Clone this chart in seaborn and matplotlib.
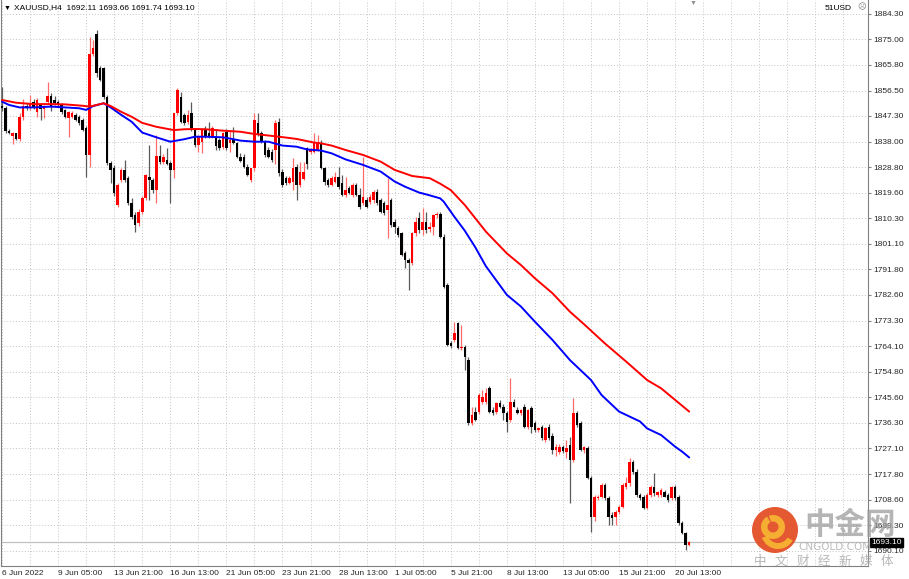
import numpy as np
import matplotlib.pyplot as plt
import matplotlib.patches as mpatches
import matplotlib.transforms as mtransforms
import seaborn as sns

# MT4-like white chart
sns.set_style("white")
plt.rcParams['font.family'] = ['Liberation Sans', 'DejaVu Sans']

# H4 candles, 6 Jun 2022 13:00 .. 21 Jul 2022 05:00 (one entry per bar)
opens = [
    1851.0, 1850.1, 1842.0, 1840.0, 1841.0, 1838.8, 1847.0, 1851.0, 1850.1, 1852.5,
    1848.8, 1851.3, 1849.7, 1852.5, 1854.5, 1853.1, 1852.5, 1851.3, 1849.5, 1846.4,
    1847.0, 1847.6, 1847.0, 1845.8, 1842.8, 1833.2, 1869.9, 1877.0, 1864.8, 1864.5,
    1854.3, 1830.2, 1828.4, 1815.1, 1824.1, 1827.8, 1824.7, 1815.7, 1811.5, 1808.5,
    1812.7, 1817.5, 1825.4, 1824.1, 1820.5, 1833.0, 1830.8, 1831.4, 1830.2, 1827.8,
    1848.3, 1854.0, 1847.7, 1845.3, 1848.3, 1842.2, 1836.8, 1838.0, 1842.2, 1841.0,
    1840.2, 1839.2, 1838.6, 1836.0, 1841.6, 1837.4, 1838.6, 1837.4, 1832.6, 1832.6,
    1829.0, 1824.1, 1828.4, 1844.6, 1841.0, 1838.0, 1835.0, 1834.4, 1835.0, 1845.0,
    1827.0, 1824.8, 1823.0, 1823.6, 1829.0, 1822.4, 1824.5, 1835.6, 1834.4, 1834.4,
    1835.0, 1837.4, 1828.4, 1824.2, 1822.4, 1823.6, 1825.4, 1823.0, 1818.7, 1821.1,
    1818.7, 1822.4, 1818.7, 1815.7, 1816.9, 1816.3, 1816.9, 1819.9, 1816.9, 1815.7,
    1813.3, 1816.9, 1809.1, 1806.7, 1804.9, 1797.6, 1795.2, 1794.0, 1804.9, 1810.5,
    1806.1, 1809.1, 1806.3, 1807.3, 1811.5, 1811.9, 1803.7, 1786.2, 1765.1, 1766.3,
    1772.3, 1763.3, 1763.9, 1759.0, 1736.2, 1740.4, 1740.4, 1744.0, 1744.0, 1748.8,
    1741.0, 1740.4, 1743.4, 1742.2, 1739.8, 1737.4, 1744.0, 1741.0, 1739.8, 1742.2,
    1734.9, 1741.6, 1736.2, 1733.7, 1734.9, 1730.1, 1734.9, 1731.5, 1726.5, 1725.9,
    1727.7, 1725.9, 1728.3, 1722.9, 1739.8, 1736.1, 1726.5, 1727.1, 1716.2, 1702.4,
    1709.0, 1709.6, 1713.8, 1709.0, 1703.0, 1702.4, 1704.2, 1706.0, 1713.2, 1714.4,
    1722.3, 1718.7, 1710.2, 1709.6, 1705.4, 1710.2, 1713.2, 1710.2, 1710.2, 1711.4,
    1710.2, 1709.0, 1713.2, 1709.6, 1700.0, 1696.4, 1692.11,
]
highs = [
    1857.9, 1851.0, 1842.5, 1841.6, 1841.3, 1848.5, 1853.3, 1852.1, 1854.9, 1853.3,
    1853.8, 1852.0, 1851.3, 1859.7, 1855.5, 1854.5, 1853.1, 1851.9, 1850.0, 1849.2,
    1849.0, 1848.5, 1847.6, 1846.4, 1843.5, 1876.0, 1874.8, 1878.4, 1865.5, 1865.1,
    1855.0, 1831.0, 1829.5, 1823.0, 1828.5, 1831.4, 1825.5, 1817.5, 1812.5, 1813.5,
    1818.2, 1826.5, 1836.8, 1825.0, 1840.4, 1836.8, 1833.5, 1835.6, 1831.0, 1848.5,
    1857.3, 1856.0, 1848.5, 1849.5, 1852.5, 1843.0, 1840.5, 1843.0, 1843.5, 1845.0,
    1843.5, 1842.5, 1839.5, 1841.6, 1842.5, 1842.2, 1843.4, 1838.0, 1834.0, 1833.5,
    1830.0, 1828.6, 1848.3, 1848.3, 1842.0, 1838.6, 1836.0, 1835.5, 1845.9, 1846.5,
    1828.0, 1825.5, 1825.5, 1832.0, 1830.0, 1830.8, 1830.8, 1836.2, 1835.6, 1841.0,
    1840.4, 1838.5, 1829.0, 1825.0, 1825.5, 1827.2, 1829.0, 1826.0, 1825.4, 1822.0,
    1823.0, 1823.0, 1821.1, 1832.6, 1818.0, 1819.0, 1820.5, 1821.0, 1817.5, 1816.5,
    1824.8, 1817.5, 1810.0, 1807.5, 1805.5, 1798.5, 1796.0, 1805.5, 1810.9, 1812.7,
    1813.9, 1812.7, 1809.0, 1812.0, 1812.5, 1812.5, 1804.5, 1786.8, 1766.0, 1772.9,
    1772.9, 1771.7, 1764.5, 1760.0, 1742.2, 1742.2, 1747.0, 1748.2, 1748.8, 1749.5,
    1742.0, 1744.0, 1744.5, 1743.0, 1740.5, 1752.4, 1745.0, 1742.0, 1741.5, 1743.0,
    1741.5, 1742.5, 1737.0, 1735.0, 1735.5, 1735.0, 1736.0, 1732.5, 1728.5, 1728.5,
    1728.3, 1730.1, 1731.3, 1745.2, 1740.5, 1737.0, 1728.0, 1728.0, 1717.0, 1710.2,
    1710.2, 1714.5, 1714.4, 1710.0, 1704.0, 1704.8, 1706.6, 1714.4, 1716.9, 1723.5,
    1723.0, 1719.5, 1711.0, 1710.2, 1711.0, 1714.0, 1718.1, 1711.8, 1712.6, 1712.2,
    1711.0, 1713.5, 1714.0, 1710.2, 1701.0, 1697.0, 1693.66,
]
lows = [
    1849.0, 1841.3, 1840.8, 1837.2, 1838.6, 1838.4, 1845.8, 1849.5, 1849.5, 1849.7,
    1847.0, 1845.8, 1846.4, 1851.5, 1849.0, 1851.3, 1850.7, 1848.2, 1846.4, 1839.8,
    1846.5, 1845.5, 1844.0, 1842.0, 1825.3, 1829.0, 1869.0, 1861.5, 1859.8, 1853.5,
    1829.5, 1822.9, 1818.5, 1814.5, 1823.5, 1823.5, 1815.0, 1810.0, 1805.4, 1807.5,
    1812.0, 1816.9, 1816.9, 1819.5, 1815.7, 1830.0, 1830.0, 1829.6, 1815.7, 1825.0,
    1847.5, 1844.8, 1844.0, 1844.5, 1842.0, 1836.0, 1834.4, 1833.8, 1839.2, 1839.5,
    1839.5, 1835.0, 1835.0, 1835.5, 1835.0, 1834.4, 1837.0, 1832.0, 1830.5, 1828.5,
    1825.5, 1823.5, 1827.5, 1840.0, 1837.5, 1832.6, 1832.0, 1830.8, 1830.0, 1825.5,
    1821.8, 1822.5, 1822.8, 1820.5, 1816.9, 1821.8, 1824.0, 1828.0, 1833.5, 1834.0,
    1834.5, 1828.0, 1822.5, 1821.8, 1822.0, 1823.0, 1821.0, 1818.2, 1818.0, 1819.0,
    1818.0, 1818.2, 1813.5, 1815.0, 1814.0, 1815.5, 1816.0, 1815.0, 1812.2, 1811.5,
    1803.1, 1807.0, 1804.9, 1803.5, 1796.5, 1792.2, 1784.4, 1793.5, 1804.0, 1805.0,
    1804.3, 1804.9, 1805.5, 1804.3, 1810.5, 1803.0, 1785.0, 1764.0, 1763.5, 1765.5,
    1762.9, 1762.5, 1755.4, 1735.5, 1735.5, 1737.0, 1739.5, 1743.0, 1743.0, 1740.0,
    1739.2, 1739.5, 1741.8, 1737.4, 1733.1, 1736.5, 1742.0, 1739.5, 1739.0, 1734.5,
    1734.0, 1732.5, 1733.0, 1733.0, 1730.0, 1729.5, 1730.0, 1725.0, 1724.5, 1725.0,
    1725.5, 1723.5, 1707.2, 1722.0, 1735.0, 1726.0, 1725.5, 1716.0, 1697.0, 1701.0,
    1708.5, 1709.0, 1708.5, 1699.4, 1699.5, 1699.4, 1703.5, 1705.5, 1712.5, 1713.5,
    1718.0, 1709.5, 1708.5, 1705.0, 1705.0, 1709.5, 1710.0, 1709.5, 1709.5, 1709.5,
    1707.8, 1708.5, 1708.5, 1699.5, 1696.0, 1690.5, 1691.74,
]
closes = [
    1850.1, 1842.0, 1841.2, 1841.0, 1838.8, 1847.0, 1851.0, 1850.1, 1851.9, 1850.1,
    1853.1, 1849.7, 1850.4, 1854.5, 1851.0, 1851.9, 1851.3, 1848.8, 1847.0, 1848.8,
    1848.5, 1845.8, 1844.6, 1842.2, 1833.2, 1869.9, 1871.8, 1862.7, 1860.3, 1854.3,
    1830.2, 1827.8, 1819.3, 1822.3, 1827.8, 1824.1, 1815.7, 1810.9, 1807.9, 1812.7,
    1817.5, 1826.0, 1824.1, 1820.5, 1833.0, 1830.8, 1832.6, 1830.0, 1827.8, 1848.3,
    1856.7, 1845.3, 1844.9, 1847.7, 1842.8, 1836.8, 1839.8, 1842.2, 1839.8, 1840.2,
    1842.8, 1836.5, 1835.6, 1841.0, 1835.6, 1838.6, 1837.4, 1832.6, 1831.0, 1829.0,
    1826.0, 1828.4, 1845.9, 1840.4, 1838.0, 1833.2, 1832.6, 1831.4, 1844.6, 1826.6,
    1822.4, 1823.0, 1824.8, 1828.4, 1822.4, 1827.2, 1827.0, 1830.0, 1835.2, 1837.4,
    1838.0, 1828.4, 1823.5, 1822.4, 1824.8, 1825.4, 1821.7, 1818.7, 1820.5, 1819.3,
    1822.4, 1818.7, 1814.5, 1818.1, 1814.5, 1818.1, 1819.9, 1815.7, 1812.7, 1812.1,
    1815.1, 1807.9, 1807.3, 1804.3, 1797.0, 1795.2, 1794.0, 1804.9, 1809.1, 1806.1,
    1809.1, 1806.1, 1807.3, 1811.5, 1811.9, 1803.7, 1785.6, 1764.5, 1764.1, 1768.7,
    1763.3, 1763.9, 1760.3, 1736.2, 1739.2, 1737.4, 1746.4, 1745.8, 1747.0, 1740.4,
    1739.8, 1743.4, 1742.2, 1739.8, 1736.8, 1744.0, 1742.2, 1739.8, 1741.0, 1734.9,
    1741.0, 1734.9, 1733.7, 1734.3, 1730.7, 1734.3, 1730.7, 1726.5, 1727.7, 1727.7,
    1726.0, 1727.1, 1722.9, 1739.8, 1735.5, 1726.5, 1727.7, 1716.2, 1702.4, 1709.6,
    1709.6, 1713.8, 1709.0, 1702.4, 1701.8, 1704.2, 1706.0, 1713.8, 1714.4, 1722.3,
    1718.7, 1710.2, 1709.0, 1705.4, 1710.2, 1713.2, 1710.8, 1711.4, 1712.0, 1709.6,
    1708.4, 1713.2, 1709.0, 1700.0, 1696.4, 1692.1, 1693.10,
]

# moving averages (bar index, value)
blue_idx = [0, 2, 5, 9, 14, 18, 22, 24, 26, 29, 31, 34, 37, 40, 44, 48, 52, 55, 58, 63,
            66, 68, 72, 76, 80, 84, 87, 89, 91, 94, 98, 103, 108, 112, 115, 119, 122,
            125, 126, 129, 132, 135, 138, 144, 148, 152, 157, 162, 168, 171, 176, 179,
            182, 184, 188, 192, 194, 196]
blue_ma = [1852.5, 1851.3, 1850.4, 1850.4, 1850.7, 1850.4, 1850.1, 1849.5, 1850.9, 1851.9,
           1850.4, 1847.7, 1845.2, 1841.3, 1839.6, 1838.0, 1838.9, 1839.8, 1839.8, 1839.6,
           1838.9, 1838.4, 1838.0, 1838.0, 1836.6, 1836.2, 1835.2, 1835.0, 1834.8, 1833.8,
           1831.6, 1829.6, 1827.2, 1823.6, 1821.7, 1819.6, 1818.6, 1817.5, 1816.3, 1810.9,
           1805.8, 1799.8, 1793.0, 1782.6, 1778.4, 1772.9, 1766.3, 1759.0, 1751.8, 1746.4,
           1740.4, 1738.6, 1736.8, 1734.3, 1731.9, 1727.7, 1725.9, 1723.8]
red_idx = [0, 4, 9, 14, 18, 23, 25, 27, 29, 31, 34, 37, 40, 44, 49, 52, 55, 58, 63, 68,
           72, 77, 81, 84, 89, 91, 94, 98, 103, 108, 112, 117, 122, 125, 128, 132, 135,
           138, 144, 148, 152, 157, 162, 166, 172, 178, 184, 188, 192, 196]
red_ma = [1853.1, 1852.1, 1851.6, 1851.6, 1851.5, 1851.0, 1850.7, 1851.3, 1851.9, 1850.9,
          1848.8, 1847.0, 1844.8, 1843.4, 1842.2, 1842.5, 1842.6, 1842.5, 1842.0, 1841.6,
          1840.8, 1840.1, 1839.5, 1839.0, 1837.7, 1837.4, 1836.6, 1835.0, 1833.2, 1830.8,
          1827.8, 1825.6, 1824.8, 1822.8, 1820.5, 1815.1, 1810.3, 1805.5, 1797.6, 1793.4,
          1788.6, 1783.2, 1776.5, 1772.0, 1765.0, 1758.5, 1751.8, 1748.8, 1744.6, 1740.4]

date_labels = ["6 Jun 2022", "9 Jun 05:00", "13 Jun 21:00", "16 Jun 13:00", "21 Jun 05:00",
               "23 Jun 21:00", "28 Jun 13:00", "1 Jul 05:00", "5 Jul 21:00", "8 Jul 13:00",
               "13 Jul 05:00", "15 Jul 21:00", "20 Jul 13:00"]
price_labels = ["1884.30", "1875.00", "1865.80", "1856.50", "1847.30", "1838.00", "1828.80",
                "1819.60", "1810.30", "1801.10", "1791.80", "1782.60", "1773.30", "1764.10",
                "1754.80", "1745.60", "1736.30", "1727.10", "1717.80", "1708.60", "1699.30",
                "1690.10"]
last_price = 1693.10
header = "XAUUSD,H4  1692.11 1693.66 1691.74 1693.10"
slogan = "中文财经新媒体"

W, H = 909, 579
fig = plt.figure(figsize=(W / 100, H / 100), dpi=100)
ax = fig.add_axes([1 / W, 13 / H, 867 / W, 566 / H])

x = np.arange(len(closes))
o, h, l, c = (np.array(v) for v in (opens, highs, lows, closes))
up = c >= o
body_col = np.where(up, '#ff0000', '#000000')
wick_col = np.where(up, '#ff6a6a', '#5a5a5a')

# candles: wicks then bodies
ax.vlines(x, l, h, colors=wick_col, lw=0.9, zorder=2)
body = np.maximum(np.abs(c - o), 0.3)
ax.bar(x, body, bottom=np.minimum(o, c), width=0.72, color=body_col, lw=0, zorder=3)

# moving averages
sns.lineplot(x=blue_idx, y=blue_ma, ax=ax, color='#0000ff', lw=1.4, zorder=4)
sns.lineplot(x=red_idx, y=red_ma, ax=ax, color='#ff0000', lw=1.4, zorder=4)

# current price line
ax.axhline(last_price, color='#c0c0c0', lw=0.9, zorder=1)

ax.set_xlim(-0.285, 247.0)
ax.set_ylim(1684.55, 1889.25)

# x axis: labels every 16 bars, grid every 8 bars
ax.set_xticks(np.arange(0, 16 * len(date_labels), 16))
ax.set_xticklabels(date_labels, ha='left', fontsize=6)
ax.set_xticks(np.arange(8, 247, 8), minor=True)
ax.tick_params(axis='x', which='major', length=2, pad=1, color='#808080')
ax.tick_params(axis='x', which='minor', length=0)

# y axis on the right
ax.yaxis.tick_right()
ax.set_yticks([float(p) for p in price_labels])
ax.set_yticklabels(price_labels, fontsize=6)
ax.tick_params(axis='y', length=2, pad=1.5, color='#808080')

ax.grid(True, which='both', axis='x', color='#c4c4c4', lw=0.7, ls=(0, (1, 2)))
ax.grid(True, which='major', axis='y', color='#c4c4c4', lw=0.7, ls=(0, (1, 2)))
ax.set_axisbelow(True)

for side in ['left', 'bottom', 'right']:
    ax.spines[side].set_color('#808080')
    ax.spines[side].set_linewidth(0.8)
ax.spines['top'].set_visible(False)

# current price tag
tag_tr = mtransforms.blended_transform_factory(ax.transAxes, ax.transData)
ax.text(1 + 3 / 867, last_price, f"{last_price:.2f}", transform=tag_tr, ha='left',
        va='center', fontsize=6, color='white', zorder=6, clip_on=False,
        bbox=dict(boxstyle='square,pad=0.12', fc='black', ec='black'))

# header texts
fig.text(4 / W, 1 - 8 / H, "\u25bc", fontsize=5, color='black', va='center')
fig.text(14 / W, 1 - 8 / H, header, fontsize=6, color='black', va='center')
fig.text(852 / W, 1 - 8 / H, "51USD", fontsize=6, color='black', va='center', ha='right')
fig.text(862 / W, 1 - 7 / H, "\u2639", fontsize=6, color='#808080', va='center',
         ha='center', family=['DejaVu Sans'])
fig.text(693 / W, 1 - 3 / H, "\u25bc", fontsize=5, color='#909090', va='center', ha='center')

# watermark logo (red disc with a yellow swirl)
inch = fig.dpi_scale_trans
cx, cy = 7.75, 0.49
fig.add_artist(mpatches.Circle((cx, cy), 0.23, transform=inch, fc='#e2461c', ec='none',
                               alpha=0.9))
fig.add_artist(mpatches.Wedge((cx - 0.02, cy + 0.03), 0.12, 120, 470, width=0.065,
                              transform=inch, fc='#f6b431', ec='none', alpha=0.95))
fig.add_artist(mpatches.Wedge((cx + 0.03, cy - 0.02), 0.17, 200, 330, width=0.06,
                              transform=inch, fc='#f6b431', ec='none', alpha=0.95))

cjk = ['Noto Sans CJK SC', 'DejaVu Sans']
fig.text(850 / W, 1 - 525 / H, "中金网", fontsize=22, fontweight='bold', color='#9c9c9c',
         alpha=0.75, va='center', ha='center', family=cjk)
fig.text(835 / W, 1 - 547 / H, "CNGOLD.COM", fontsize=7.5, color='#b0b0b0', alpha=0.85,
         va='center', ha='center', family=['DejaVu Sans'])
for k, ch in enumerate(slogan):
    fig.text((760 + 21.2 * k) / W, 1 - 561 / H, ch, fontsize=9, color='#ababab',
             alpha=0.85, va='center', ha='center', family=cjk)

fig.savefig("out.png", dpi=100)
